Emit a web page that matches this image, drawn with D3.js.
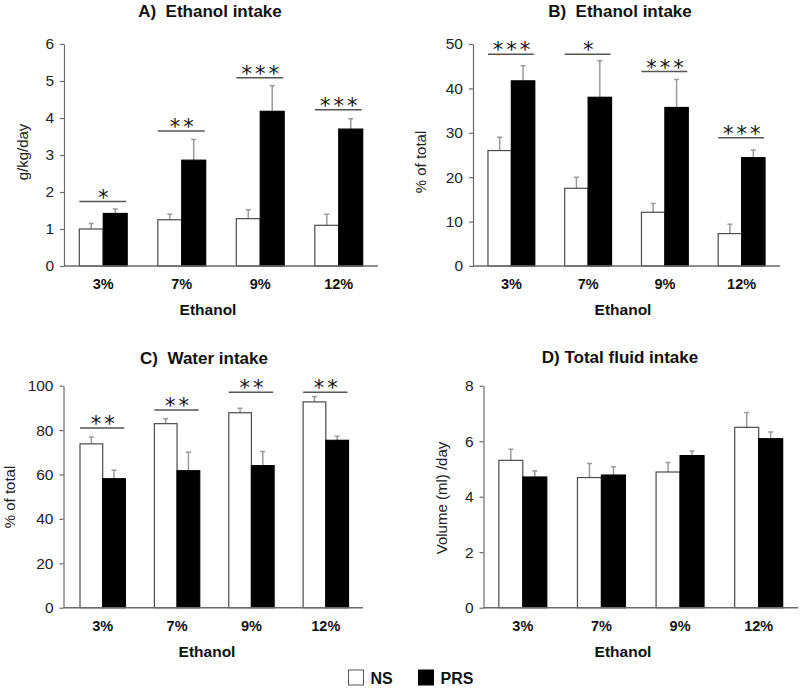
<!DOCTYPE html>
<html>
<head>
<meta charset="utf-8">
<script src="https://cdn.jsdelivr.net/npm/d3@7"></script>
<style>
  html, body { margin: 0; padding: 0; background: #fff; }
  svg { display: block; }
  text { font-family: "Liberation Sans", Arial, sans-serif; }
</style>
</head>
<body>
<svg id="chart" width="800" height="688"></svg>
<script>
// ---------- DATA ----------
const categories = ["3%", "7%", "9%", "12%"];
const groups = ["NS", "PRS"];

// A) Ethanol intake (g/kg/day)
const nsA = [1.00, 1.25, 1.28, 1.10];
const nsAErr = [0.15, 0.15, 0.24, 0.30];
const prsA = [1.42, 2.86, 4.18, 3.70];
const prsAErr = [0.12, 0.56, 0.69, 0.28];
const sigA = ["*", "**", "***", "***"];
const sigALevel = [1.74, 3.65, 5.09, 4.22];
const ticksA = [0, 1, 2, 3, 4, 5, 6];

// B) Ethanol intake (% of total)
const nsB = [26.0, 17.5, 12.1, 7.3];
const nsBErr = [3.0, 2.5, 2.0, 2.1];
const prsB = [41.7, 38.0, 35.7, 24.4];
const prsBErr = [3.4, 8.2, 6.3, 1.7];
const sigB = ["***", "*", "***", "***"];
const sigBLevel = [47.7, 47.7, 43.8, 28.9];
const ticksB = [0, 10, 20, 30, 40, 50];

// C) Water intake (% of total)
const nsC = [73.8, 82.9, 87.8, 92.7];
const nsCErr = [3.1, 2.2, 2.0, 2.4];
const prsC = [58.1, 61.7, 64.0, 75.4];
const prsCErr = [3.8, 8.3, 6.4, 1.8];
const sigC = ["**", "**", "**", "**"];
const sigCLevel = [81, 89, 97, 97];
const ticksC = [0, 20, 40, 60, 80, 100];

// D) Total fluid intake (Volume (ml) /day)
const nsD = [5.31, 4.69, 4.89, 6.50];
const nsDErr = [0.40, 0.51, 0.34, 0.53];
const prsD = [4.71, 4.78, 5.48, 6.09];
const prsDErr = [0.22, 0.30, 0.17, 0.24];
const ticksD = [0, 2, 4, 6, 8];

const titles = ["A)  Ethanol intake", "B)  Ethanol intake", "C)  Water intake", "D) Total fluid intake"];
const yLabels = ["g/kg/day", "% of total", "% of total", "Volume (ml) /day"];
const xLabel = "Ethanol";

// ---------- LAYOUT ----------
const panels = [
  { title: titles[0], yLabel: yLabels[0], ns: nsA, nsErr: nsAErr, prs: prsA, prsErr: prsAErr, sig: sigA, sigLevel: sigALevel, ticks: ticksA,
    axisX: [64, 378], bandX: [64, 378], yPx: [266, 44], titlePos: [210, 17], yLabelPos: [23, 152], xLabelPos: [208, 315] },
  { title: titles[1], yLabel: yLabels[1], ns: nsB, nsErr: nsBErr, prs: prsB, prsErr: prsBErr, sig: sigB, sigLevel: sigBLevel, ticks: ticksB,
    axisX: [473, 780], bandX: [473, 780], yPx: [266, 44], titlePos: [620, 17], yLabelPos: [421, 162], xLabelPos: [623, 315] },
  { title: titles[2], yLabel: yLabels[2], ns: nsC, nsErr: nsCErr, prs: prsC, prsErr: prsCErr, sig: sigC, sigLevel: sigCLevel, ticks: ticksC,
    axisX: [63.5, 363], bandX: [65.5, 363], yPx: [607.7, 385.7], titlePos: [204, 364], yLabelPos: [10, 497], xLabelPos: [207, 657] },
  { title: titles[3], yLabel: yLabels[3], ns: nsD, nsErr: nsDErr, prs: prsD, prsErr: prsDErr, sig: null, sigLevel: null, ticks: ticksD,
    axisX: [483.5, 798], bandX: [483.5, 798], yPx: [607.7, 385.7], titlePos: [620, 363], yLabelPos: [442, 498], xLabelPos: [623, 657] }
];

const svg = d3.select("#chart");
const axisColor = "#6a6a6a";
const errColor = "#9a9a9a";

panels.forEach(p => {
  const g = svg.append("g");
  const yMax = p.ticks[p.ticks.length - 1];
  const y = d3.scaleLinear().domain([0, yMax]).range(p.yPx);
  const x = d3.scaleBand().domain(categories).range(p.bandX).paddingInner(0.39).paddingOuter(0.195);
  const xs = d3.scaleBand().domain(groups).range([0, x.bandwidth()]);

  // y axis
  const ya = g.append("g")
    .attr("transform", `translate(${p.axisX[0]},0)`)
    .call(d3.axisLeft(y).tickValues(p.ticks).tickSize(4).tickSizeOuter(0).tickPadding(6).tickFormat(d3.format("d")));
  ya.select(".domain").attr("stroke", axisColor).attr("stroke-width", 1.2);
  ya.selectAll(".tick line").attr("stroke", axisColor).attr("stroke-width", 1.2);
  ya.selectAll(".tick text").attr("fill", "#222").style("font-size", "15.5px")
    .style("font-family", '"Liberation Sans", Arial, sans-serif');

  // bars
  const rows = categories.map((c, i) => ({ c, vals: [
    { grp: "NS", v: p.ns[i], e: p.nsErr[i] },
    { grp: "PRS", v: p.prs[i], e: p.prsErr[i] }
  ]}));

  const cg = g.selectAll(".cat").data(rows).enter().append("g")
    .attr("transform", d => `translate(${x(d.c)},0)`);

  // error bars (behind bars)
  cg.selectAll(".err").data(d => d.vals).enter().append("path")
    .attr("d", d => {
      const cx = xs(d.grp) + xs.bandwidth() / 2;
      const yt = y(d.v + d.e);
      return `M${cx},${y(d.v)}V${yt}M${cx - 2.5},${yt}H${cx + 2.5}`;
    })
    .attr("stroke", errColor).attr("stroke-width", 1.5).attr("fill", "none");

  cg.selectAll(".bar").data(d => d.vals).enter().append("rect")
    .attr("x", d => xs(d.grp))
    .attr("width", xs.bandwidth())
    .attr("y", d => y(d.v))
    .attr("height", d => y(0) - y(d.v))
    .attr("fill", d => d.grp === "NS" ? "#fff" : "#000")
    .attr("stroke", d => d.grp === "NS" ? "#4a4a4a" : "#000")
    .attr("stroke-width", 1.2);

  // x axis line
  g.append("line")
    .attr("x1", p.axisX[0]).attr("x2", p.axisX[1])
    .attr("y1", y(0)).attr("y2", y(0))
    .attr("stroke", axisColor).attr("stroke-width", 1.4);

  // category labels
  g.selectAll(".catlab").data(categories).enter().append("text")
    .attr("x", d => x(d) + x.bandwidth() / 2)
    .attr("y", y(0) + 23)
    .attr("text-anchor", "middle")
    .style("font-size", "14.5px").style("font-weight", "bold").attr("fill", "#111")
    .text(d => d);

  // significance
  if (p.sig) {
    categories.forEach((c, i) => {
      const ly = y(p.sigLevel[i]);
      g.append("line")
        .attr("x1", x(c)).attr("x2", x(c) + x.bandwidth() - 1)
        .attr("y1", ly).attr("y2", ly)
        .attr("stroke", "#555").attr("stroke-width", 1.5);
      g.append("text")
        .attr("x", x(c) + x.bandwidth() / 2 + 1.5)
        .attr("y", ly + 3)
        .attr("text-anchor", "middle")
        .style("font-family", '"DejaVu Sans", sans-serif')
        .style("font-size", "21px")
        .style("letter-spacing", "3px")
        .attr("fill", "#111")
        .text(p.sig[i]);
    });
  }

  // title
  g.append("text")
    .attr("x", p.titlePos[0]).attr("y", p.titlePos[1])
    .attr("text-anchor", "middle")
    .attr("xml:space", "preserve")
    .style("white-space", "pre")
    .style("font-size", "17px").style("font-weight", "bold").attr("fill", "#111")
    .text(p.title);

  // y label
  g.append("text")
    .attr("transform", `translate(${p.yLabelPos[0]},${p.yLabelPos[1]}) rotate(-90)`)
    .attr("text-anchor", "middle").attr("dy", "0.35em")
    .style("font-size", "15px").attr("fill", "#222")
    .text(p.yLabel);

  // x label
  g.append("text")
    .attr("x", p.xLabelPos[0]).attr("y", p.xLabelPos[1])
    .attr("text-anchor", "middle")
    .style("font-size", "15.5px").style("font-weight", "bold").attr("fill", "#111")
    .text(xLabel);
});

// legend
const legendPos = [[348.5, 670], [418.5, 670]];
const legend = svg.selectAll(".leg").data(groups).enter().append("g")
  .attr("transform", (d, i) => `translate(${legendPos[i][0]},${legendPos[i][1]})`);
legend.append("rect")
  .attr("width", 15).attr("height", 15)
  .attr("fill", d => d === "NS" ? "#fff" : "#000")
  .attr("stroke", d => d === "NS" ? "#555" : "#000").attr("stroke-width", 1);
legend.append("text")
  .attr("x", 22).attr("y", 13.5)
  .style("font-size", "16px").style("font-weight", "bold").attr("fill", "#111")
  .text(d => d);
</script>
</body>
</html>
